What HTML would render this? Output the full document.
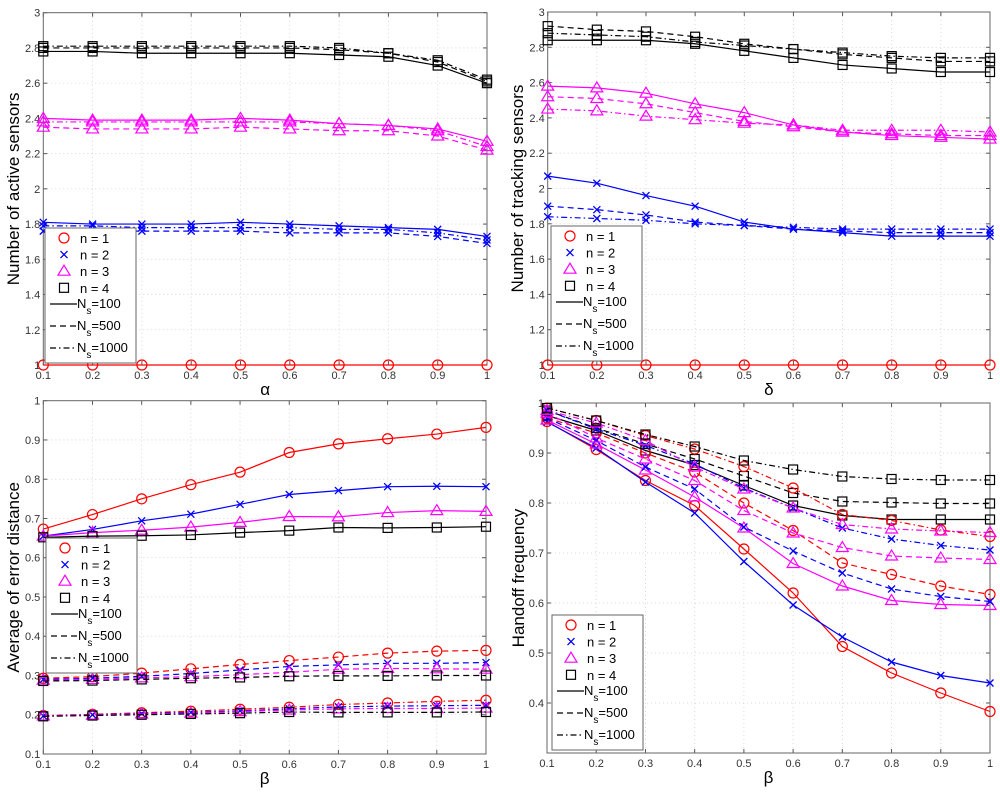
<!DOCTYPE html>
<html><head><meta charset="utf-8"><style>
html,body{margin:0;padding:0;background:#fff}
svg{display:block;font-family:"Liberation Sans",sans-serif}
</style></head><body>
<svg id="fig" width="1000" height="793" viewBox="0 0 1000 793" xmlns="http://www.w3.org/2000/svg"></svg>
<script>
const xCategories=[0.1,0.2,0.3,0.4,0.5,0.6,0.7,0.8,0.9,1];
const xTickLabels=['0.1','0.2','0.3','0.4','0.5','0.6','0.7','0.8','0.9','1'];
// Panel A: active sensors vs alpha
const activeN1=[1,1,1,1,1,1,1,1,1,1];
const activeN2s100=[1.81,1.80,1.80,1.80,1.81,1.80,1.79,1.78,1.77,1.73];
const activeN2s500=[1.76,1.76,1.76,1.76,1.76,1.75,1.75,1.75,1.73,1.69];
const activeN2s1000=[1.79,1.79,1.78,1.78,1.78,1.78,1.77,1.77,1.75,1.71];
const activeN3s100=[2.40,2.39,2.39,2.39,2.40,2.39,2.37,2.36,2.34,2.27];
const activeN3s500=[2.35,2.34,2.34,2.34,2.35,2.34,2.33,2.33,2.30,2.22];
const activeN3s1000=[2.38,2.38,2.38,2.38,2.38,2.38,2.37,2.36,2.33,2.24];
const activeN4s100=[2.78,2.78,2.77,2.77,2.77,2.77,2.76,2.75,2.70,2.60];
const activeN4s500=[2.80,2.80,2.80,2.80,2.80,2.80,2.79,2.77,2.72,2.61];
const activeN4s1000=[2.81,2.81,2.81,2.81,2.81,2.81,2.80,2.77,2.73,2.62];
const activeYTicks=['1','1.2','1.4','1.6','1.8','2','2.2','2.4','2.6','2.8','3'];
// Panel B: tracking sensors vs delta
const trackN1=[1,1,1,1,1,1,1,1,1,1];
const trackN2s100=[2.07,2.03,1.96,1.90,1.81,1.77,1.75,1.73,1.73,1.73];
const trackN2s500=[1.90,1.88,1.85,1.81,1.79,1.77,1.76,1.75,1.75,1.75];
const trackN2s1000=[1.84,1.83,1.82,1.80,1.79,1.78,1.77,1.77,1.77,1.77];
const trackN3s100=[2.58,2.57,2.54,2.48,2.43,2.36,2.32,2.30,2.29,2.28];
const trackN3s500=[2.52,2.51,2.48,2.43,2.38,2.35,2.32,2.31,2.30,2.30];
const trackN3s1000=[2.45,2.44,2.41,2.39,2.37,2.36,2.33,2.33,2.33,2.32];
const trackN4s100=[2.84,2.84,2.84,2.82,2.78,2.74,2.70,2.68,2.66,2.66];
const trackN4s500=[2.92,2.90,2.89,2.86,2.82,2.79,2.76,2.74,2.72,2.72];
const trackN4s1000=[2.88,2.87,2.86,2.83,2.81,2.79,2.77,2.75,2.74,2.74];
const trackYTicks=activeYTicks;
// Panel C: error distance vs beta
const errN1s100=[0.673,0.71,0.75,0.786,0.818,0.868,0.89,0.903,0.915,0.932];
const errN2s100=[0.655,0.672,0.694,0.711,0.736,0.761,0.771,0.781,0.782,0.781];
const errN3s100=[0.655,0.664,0.670,0.678,0.69,0.705,0.704,0.715,0.72,0.718];
const errN4s100=[0.652,0.655,0.656,0.658,0.664,0.669,0.677,0.676,0.677,0.679];
const errN1s500=[0.293,0.297,0.306,0.317,0.328,0.338,0.347,0.357,0.362,0.364];
const errN2s500=[0.290,0.293,0.298,0.305,0.314,0.323,0.327,0.331,0.331,0.333];
const errN3s500=[0.288,0.29,0.294,0.297,0.302,0.308,0.316,0.318,0.317,0.316];
const errN4s500=[0.286,0.287,0.29,0.293,0.295,0.298,0.299,0.299,0.3,0.3];
const errN1s1000=[0.198,0.201,0.205,0.209,0.214,0.219,0.226,0.23,0.234,0.237];
const errN2s1000=[0.197,0.2,0.203,0.206,0.21,0.215,0.22,0.222,0.223,0.224];
const errN3s1000=[0.197,0.199,0.202,0.204,0.208,0.212,0.215,0.216,0.216,0.217];
const errN4s1000=[0.196,0.198,0.2,0.202,0.204,0.207,0.206,0.206,0.206,0.207];
const errYTicks=['0.1','0.2','0.3','0.4','0.5','0.6','0.7','0.8','0.9','1'];
// Panel D: handoff frequency vs beta
const hoN1s100=[0.963,0.907,0.845,0.795,0.708,0.62,0.513,0.46,0.42,0.383];
const hoN2s100=[0.962,0.91,0.842,0.78,0.683,0.596,0.532,0.482,0.455,0.44];
const hoN3s100=[0.966,0.918,0.866,0.812,0.75,0.679,0.634,0.605,0.597,0.595];
const hoN4s100=[0.975,0.945,0.905,0.876,0.835,0.795,0.775,0.767,0.767,0.767];
const hoN1s500=[0.97,0.94,0.90,0.862,0.80,0.745,0.68,0.657,0.634,0.617];
const hoN2s500=[0.97,0.925,0.872,0.828,0.752,0.704,0.66,0.628,0.613,0.603];
const hoN3s500=[0.98,0.93,0.888,0.845,0.785,0.74,0.711,0.694,0.69,0.687];
const hoN4s500=[0.985,0.95,0.918,0.888,0.854,0.82,0.803,0.801,0.799,0.799];
const hoN1s1000=[0.99,0.965,0.935,0.908,0.873,0.83,0.777,0.765,0.746,0.733];
const hoN2s1000=[0.985,0.948,0.915,0.878,0.83,0.79,0.75,0.728,0.715,0.706];
const hoN3s1000=[0.985,0.96,0.925,0.872,0.828,0.79,0.757,0.748,0.744,0.741];
const hoN4s1000=[0.99,0.965,0.937,0.913,0.885,0.867,0.853,0.848,0.846,0.846];
const hoYTicks=['0.4','0.5','0.6','0.7','0.8','0.9','1'];

const NS='http://www.w3.org/2000/svg';
const svg=document.getElementById('fig');
function mk(tag,attrs,parent){const e=document.createElementNS(NS,tag);for(const k in attrs)e.setAttribute(k,attrs[k]);(parent||svg).appendChild(e);return e;}
const COLORS=['#ff0000','#0000ff','#ff00ff','#000000'];
const DASH=['none','6,4','6,3,1.5,3'];
function marker(g,type,x,y,c){
  let m;
  if(type===0)m=mk('circle',{cx:x,cy:y,r:5,fill:'none',stroke:c,'stroke-width':1.2},g);
  else if(type===1)m=mk('path',{d:`M${x-3.5},${y-3.5}L${x+3.5},${y+3.5}M${x-3.5},${y+3.5}L${x+3.5},${y-3.5}`,stroke:c,'stroke-width':1.3,fill:'none'},g);
  else if(type===2)m=mk('path',{d:`M${x},${y-6}L${x+6},${y+4}L${x-6},${y+4}Z`,stroke:c,'stroke-width':1.2,fill:'none'},g);
  else m=mk('rect',{x:x-4.5,y:y-4.5,width:9,height:9,stroke:c,'stroke-width':1.2,fill:'none'},g);
  
  
}
function panel(cfg){
  const g=mk('g',{});
  
  
  const {x0,x1,yTop,yBot,ymin,ymax}=cfg;
  const sx=v=>x0+(v-0.1)/0.9*(x1-x0);
  const sy=v=>yBot-(v-ymin)/(ymax-ymin)*(yBot-yTop);
  xCategories.forEach(v=>{if(v>0.1&&v<1){const l=mk('line',{x1:sx(v),x2:sx(v),y1:yTop,y2:yBot,stroke:'#d0d0d0','stroke-width':0.8,'stroke-dasharray':'1,3'},g);}});
  cfg.yTicks.forEach(t=>{const v=parseFloat(t);const y=sy(v);
    if(v>ymin&&v<ymax){const l=mk('line',{x1:x0,x2:x1,y1:y,y2:y,stroke:'#d0d0d0','stroke-width':0.8,'stroke-dasharray':'1,3'},g);}
    mk('line',{x1:x0,x2:x0+4,y1:y,y2:y,stroke:'#555'},g);mk('line',{x1:x1,x2:x1-4,y1:y,y2:y,stroke:'#555'},g);
    const tx=mk('text',{x:x0-3,y:y+4,'text-anchor':'end','font-size':11,fill:'#333'},g);tx.textContent=t;
    });
  xCategories.forEach((v,i)=>{const x=sx(v);
    mk('line',{x1:x,x2:x,y1:yBot,y2:yBot-4,stroke:'#555'},g);mk('line',{x1:x,x2:x,y1:yTop,y2:yTop+4,stroke:'#555'},g);
    const tx=mk('text',{x:x,y:yBot+14,'text-anchor':'middle','font-size':11,fill:'#333'},g);tx.textContent=xTickLabels[i];
    });
  const box=mk('rect',{x:x0,y:yTop,width:x1-x0,height:yBot-yTop,fill:'none',stroke:'#666','stroke-width':1},g);
  
  cfg.series.forEach(s=>{
    const pts=s.vals.map((v,i)=>sx(xCategories[i])+','+sy(v)).join(' ');
    const pl=mk('polyline',{points:pts,fill:'none',stroke:COLORS[s.n],'stroke-width':1.2,'stroke-dasharray':DASH[s.st]},g);
    
    s.vals.forEach((v,i)=>marker(g,s.n,sx(xCategories[i]),sy(v),COLORS[s.n]));
  });
  const xl=mk('text',{x:(x0+x1)/2,y:yBot+30,'text-anchor':'middle','font-size':17,fill:'#000'},g);xl.textContent=cfg.xlabel;
  
  const yc=(yTop+yBot)/2;
  const yl=mk('text',{x:cfg.ylx,y:yc,'text-anchor':'middle','font-size':17,fill:'#000',transform:`rotate(-90 ${cfg.ylx} ${yc})`},g);yl.textContent=cfg.ylabel;
  
  const L=cfg.leg;
  const lg=mk('g',{},g);
  
  mk('rect',{x:L.x,y:L.y,width:91,height:135,fill:'#fff',stroke:'#666','stroke-width':1},lg);
  const names=['n = 1','n = 2','n = 3','n = 4'];
  names.forEach((nm,i)=>{const y=L.y+10+i*16.6;marker(lg,i,L.x+19,y,COLORS[i]);
    const t=mk('text',{x:L.x+35,y:y+5,'font-size':13,fill:'#000'},lg);t.textContent=nm;
    });
  ['100','500','1000'].forEach((nm,i)=>{const y=L.y+76+i*22;
    mk('line',{x1:L.x+5,x2:L.x+32,y1:y,y2:y,stroke:'#000','stroke-width':1.2,'stroke-dasharray':DASH[i]},lg);
    const t=mk('text',{x:L.x+32,y:y+4,'font-size':13,fill:'#000'},lg);
    
    t.appendChild(document.createTextNode('N'));
    const sub=mk('tspan',{dy:6,'font-size':10},t);sub.textContent='s';
    const rest=mk('tspan',{dy:-6},t);rest.textContent='='+nm;});
}
function S(n,st,vals){return {n,st,vals};}
panel({name:'active-sensors-panel',x0:43.3,x1:487,yTop:12.7,yBot:365,ymin:1,ymax:3,yTicks:activeYTicks,xlabel:'α',ylabel:'Number of active sensors',ylx:19,leg:{x:45,y:228},
  series:[S(0,0,activeN1),S(1,0,activeN2s100),S(1,1,activeN2s500),S(1,2,activeN2s1000),S(2,0,activeN3s100),S(2,1,activeN3s500),S(2,2,activeN3s1000),S(3,0,activeN4s100),S(3,1,activeN4s500),S(3,2,activeN4s1000)]});
panel({name:'tracking-sensors-panel',x0:547.7,x1:990,yTop:12,yBot:365,ymin:1,ymax:3,yTicks:trackYTicks,xlabel:'δ',ylabel:'Number of tracking sensors',ylx:523,leg:{x:551,y:226},
  series:[S(0,0,trackN1),S(1,0,trackN2s100),S(1,1,trackN2s500),S(1,2,trackN2s1000),S(2,0,trackN3s100),S(2,1,trackN3s500),S(2,2,trackN3s1000),S(3,0,trackN4s100),S(3,1,trackN4s500),S(3,2,trackN4s1000)]});
panel({name:'error-distance-panel',x0:43.3,x1:486,yTop:400.7,yBot:754,ymin:0.1,ymax:1,yTicks:errYTicks,xlabel:'β',ylabel:'Average of error distance',ylx:19,leg:{x:46,y:538},
  series:[S(0,0,errN1s100),S(1,0,errN2s100),S(2,0,errN3s100),S(3,0,errN4s100),S(0,1,errN1s500),S(1,1,errN2s500),S(2,1,errN3s500),S(3,1,errN4s500),S(0,2,errN1s1000),S(1,2,errN2s1000),S(2,2,errN3s1000),S(3,2,errN4s1000)]});
panel({name:'handoff-frequency-panel',x0:547,x1:990,yTop:403,yBot:753,ymin:0.3,ymax:1,yTicks:hoYTicks,xlabel:'β',ylabel:'Handoff frequency',ylx:524,leg:{x:552,y:615},
  series:[S(0,0,hoN1s100),S(1,0,hoN2s100),S(2,0,hoN3s100),S(3,0,hoN4s100),S(0,1,hoN1s500),S(1,1,hoN2s500),S(2,1,hoN3s500),S(3,1,hoN4s500),S(0,2,hoN1s1000),S(1,2,hoN2s1000),S(2,2,hoN3s1000),S(3,2,hoN4s1000)]});
</script>
</body></html>
